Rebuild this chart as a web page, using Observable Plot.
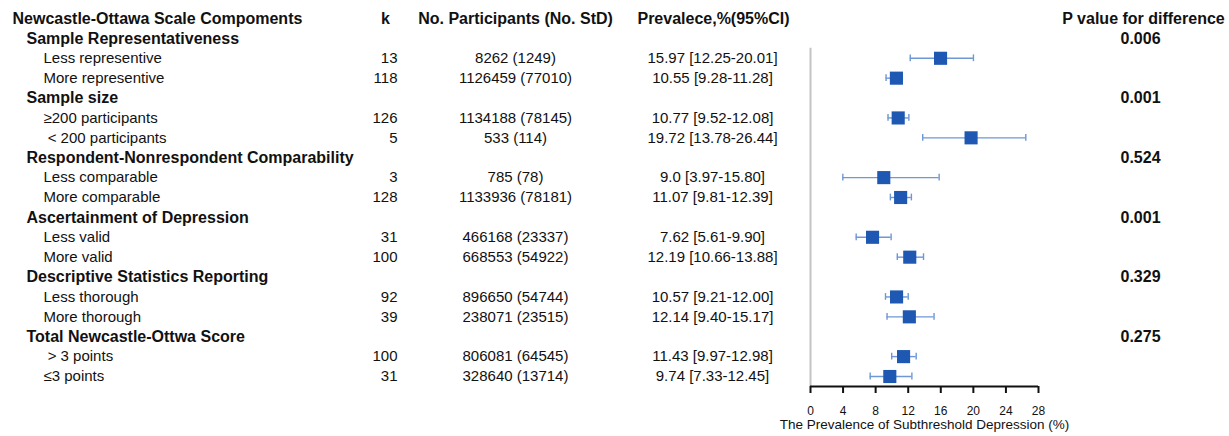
<!DOCTYPE html>
<html>
<head>
<meta charset="utf-8">
<script src="https://cdn.jsdelivr.net/npm/d3@7"></script>
<script src="https://cdn.jsdelivr.net/npm/@observablehq/plot@0.6"></script>
<style>
  html, body { margin: 0; padding: 0; background: #fff; }
  #chart svg { display: block; }
</style>
</head>
<body>
<div id="chart"></div>
<script>
// ---- data ----
const headers = ["Newcastle-Ottawa Scale Compoments", "k", "No. Participants (No. StD)", "Prevalece,%(95%CI)", "P value for difference"];
const groupNames = ["Sample Representativeness", "Sample size", "Respondent-Nonrespondent Comparability",
  "Ascertainment of Depression", "Descriptive Statistics Reporting", "Total Newcastle-Ottwa Score"];
const pValues = ["0.006", "0.001", "0.524", "0.001", "0.329", "0.275"];
const subLabels = ["Less representive", "More representive", "\u2265200 participants", "\u00a0< 200 participants",
  "Less comparable", "More comparable", "Less valid", "More valid",
  "Less thorough", "More thorough", "\u00a0> 3 points", "\u22643 points"];
const kValues = [13, 118, 126, 5, 3, 128, 31, 100, 92, 39, 100, 31];
const participants = [8262, 1126459, 1134188, 533, 785, 1133936, 466168, 668553, 896650, 238071, 806081, 328640];
const stdCounts = [1249, 77010, 78145, 114, 78, 78181, 23337, 54922, 54744, 23515, 64545, 13714];
const prevalence = ["15.97", "10.55", "10.77", "19.72", "9.0", "11.07", "7.62", "12.19", "10.57", "12.14", "11.43", "9.74"];
const ciLow = ["12.25", "9.28", "9.52", "13.78", "3.97", "9.81", "5.61", "10.66", "9.21", "9.40", "9.97", "7.33"];
const ciHigh = ["20.01", "11.28", "12.08", "26.44", "15.80", "12.39", "9.90", "13.88", "12.00", "15.17", "12.98", "12.45"];
const xTicks = [0, 4, 8, 12, 16, 20, 24, 28];
const xTitle = "The Prevalence of Subthreshold Depression (%)";

// ---- build table rows ----
const groupRows = groupNames.map((g, i) => ({row: 1 + 3 * i, label: g, p: pValues[i]}));
const subRows = subLabels.map((s, j) => ({
  row: 2 + 3 * Math.floor(j / 2) + (j % 2),
  label: s,
  k: String(kValues[j]),
  n: `${participants[j]} (${stdCounts[j]})`,
  prevText: `${prevalence[j]} [${ciLow[j]}-${ciHigh[j]}]`,
  est: +prevalence[j], lo: +ciLow[j], hi: +ciHigh[j]
}));
const headerRow = [{row: 0}];

const FONT = "'Liberation Sans', Arial, Helvetica, sans-serif";
const BLUE = "#1f58b3";
const CI = "#6e97d6";
const BOLD = 16;
const REG = 15;

const common = {frameAnchor: "left", fill: "#111", y: "row"};

const chart = Plot.plot({
  width: 1229,
  height: 436,
  marginLeft: 810,
  marginRight: 191,
  marginTop: 0,
  marginBottom: 50,
  style: {fontFamily: FONT, background: "#fff"},
  x: {domain: [0, 28]},
  y: {type: "linear", domain: [0, 18], range: [18, 376], axis: null},
  marks: [
    // header row
    Plot.text(headerRow, {...common, text: () => headers[0], dx: -798, textAnchor: "start", fontWeight: "bold", fontSize: BOLD}),
    Plot.text(headerRow, {...common, text: () => headers[1], dx: -425, textAnchor: "middle", fontWeight: "bold", fontSize: BOLD}),
    Plot.text(headerRow, {...common, text: () => headers[2], dx: -295, textAnchor: "middle", fontWeight: "bold", fontSize: BOLD}),
    Plot.text(headerRow, {...common, text: () => headers[3], dx: -97, textAnchor: "middle", fontWeight: "bold", fontSize: BOLD}),
    Plot.text(headerRow, {...common, text: () => headers[4], dx: 333, textAnchor: "middle", fontWeight: "bold", fontSize: BOLD}),
    // group rows
    Plot.text(groupRows, {...common, text: "label", dx: -784, textAnchor: "start", fontWeight: "bold", fontSize: BOLD}),
    Plot.text(groupRows, {...common, text: "p", dx: 330, textAnchor: "middle", fontWeight: "bold", fontSize: BOLD}),
    // subgroup rows
    Plot.text(subRows, {...common, text: "label", dx: -767, textAnchor: "start", fontSize: REG}),
    Plot.text(subRows, {...common, text: "k", dx: -413, textAnchor: "end", fontSize: REG}),
    Plot.text(subRows, {...common, text: "n", dx: -295, textAnchor: "middle", fontSize: REG}),
    Plot.text(subRows, {...common, text: "prevText", dx: -98, textAnchor: "middle", fontSize: REG}),
    // reference line at 0
    Plot.ruleX([0], {y1: 1.5, y2: 18.5, stroke: "#c4c4c4", strokeWidth: 2}),
    // confidence intervals
    Plot.ruleY(subRows, {y: "row", x1: "lo", x2: "hi", stroke: CI, strokeWidth: 1.4}),
    Plot.ruleX(subRows, {x: "lo", y1: d => d.row - 0.17, y2: d => d.row + 0.17, stroke: CI, strokeWidth: 1.4}),
    Plot.ruleX(subRows, {x: "hi", y1: d => d.row - 0.17, y2: d => d.row + 0.17, stroke: CI, strokeWidth: 1.4}),
    // point estimates
    Plot.dot(subRows, {x: "est", y: "row", symbol: "square", r: 7.4, fill: BLUE, stroke: "none"}),
    // x axis
    Plot.ruleY([18.5], {x1: 0, x2: 28, stroke: "#111", strokeWidth: 2}),
    Plot.axisX({ticks: xTicks, tickSize: 7, tickPadding: 13, fontSize: 12, stroke: "#111", strokeWidth: 2, fill: "#111", label: null, tickFormat: d => String(d)}),
    Plot.text([xTitle], {frameAnchor: "bottom", dy: 42, text: d => d, fontSize: 13.5, fill: "#111"})
  ]
});

document.getElementById("chart").appendChild(chart);
</script>
</body>
</html>
